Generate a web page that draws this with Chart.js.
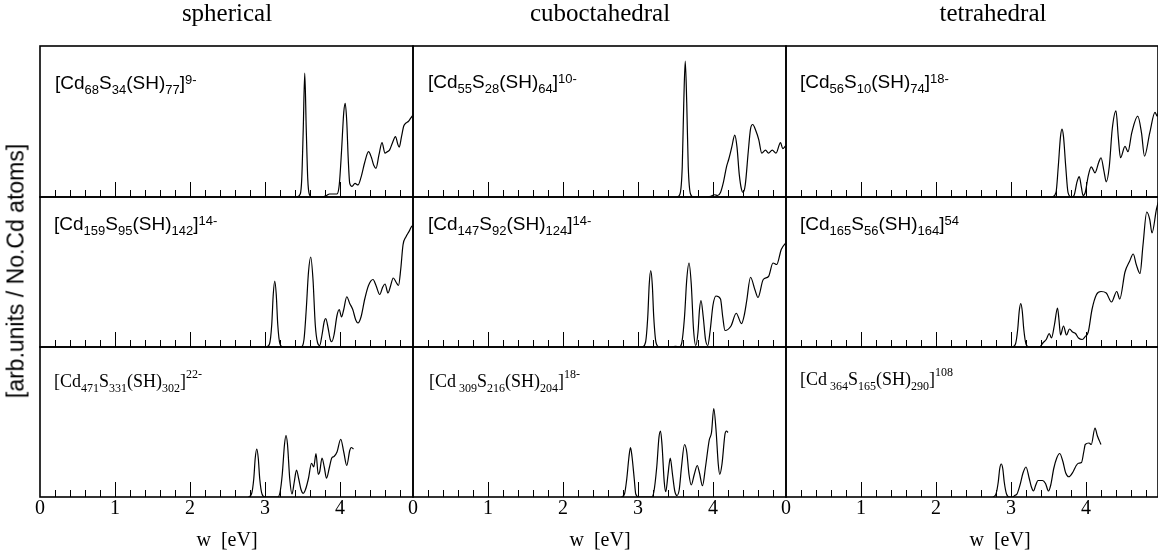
<!DOCTYPE html>
<html><head><meta charset="utf-8">
<script src="https://cdn.jsdelivr.net/npm/chart.js@4.4.1/dist/chart.umd.min.js"></script>
<style>
html,body{margin:0;padding:0;background:#fff;overflow:hidden}
#wrap{position:relative;width:1158px;height:559px;background:#fff}
canvas{position:absolute;left:0;top:0}
.t{position:absolute;white-space:nowrap;color:#000;line-height:1}
.serif{font-family:'Liberation Serif','Times New Roman',serif}
.sans{font-family:'Liberation Sans',Arial,sans-serif}
.f sub,.f sup{position:relative;vertical-align:baseline;line-height:0}
.fs{font-size:19px}.fs sub,.fs sup{font-size:13px}.fs sub{top:5px}.fs sup{top:-5px}
.fr{font-size:18px}.fr sub,.fr sup{font-size:12px}.fr sub{top:5px}.fr sup{top:-9px}
.ct{font-size:25px;transform:translateX(-50%);top:0}
.xt{font-size:20px;transform:translateX(-50%);top:529px}
</style></head><body><div id="wrap">
<div class="t serif ct" style="left:227px">spherical</div>
<div class="t serif ct" style="left:600px">cuboctahedral</div>
<div class="t serif ct" style="left:993px">tetrahedral</div>
<div class="t sans" style="left:16px;top:271px;font-size:23px;transform:translate(-50%,-50%) rotate(-90deg)">[arb.units / No.Cd atoms]</div>
<div class="t serif xt" style="left:227px">w&nbsp;&nbsp;[eV]</div>
<div class="t serif xt" style="left:600px">w&nbsp;&nbsp;[eV]</div>
<div class="t serif xt" style="left:1000px">w&nbsp;&nbsp;[eV]</div>
<div class="t sans f fs" style="left:55px;top:73px">[Cd<sub>68</sub>S<sub>34</sub>(SH)<sub>77</sub>]<sup>9-</sup></div>
<div class="t sans f fs" style="left:428px;top:72px">[Cd<sub>55</sub>S<sub>28</sub>(SH)<sub>64</sub>]<sup>10-</sup></div>
<div class="t sans f fs" style="left:800px;top:72px">[Cd<sub>56</sub>S<sub>10</sub>(SH)<sub>74</sub>]<sup>18-</sup></div>
<div class="t sans f fs" style="left:54px;top:214px">[Cd<sub>159</sub>S<sub>95</sub>(SH)<sub>142</sub>]<sup>14-</sup></div>
<div class="t sans f fs" style="left:428px;top:214px">[Cd<sub>147</sub>S<sub>92</sub>(SH)<sub>124</sub>]<sup>14-</sup></div>
<div class="t sans f fs" style="left:800px;top:214px">[Cd<sub>165</sub>S<sub>56</sub>(SH)<sub>164</sub>]<sup>54</sup></div>
<div class="t serif f fr" style="left:54px;top:372px">[Cd<sub>471</sub>S<sub>331</sub>(SH)<sub>302</sub>]<sup>22-</sup></div>
<div class="t serif f fr" style="left:429px;top:372px">[Cd<sub>&nbsp;309</sub>S<sub>216</sub>(SH)<sub>204</sub>]<sup>18-</sup></div>
<div class="t serif f fr" style="left:800px;top:370px">[Cd<sub>&nbsp;364</sub>S<sub>165</sub>(SH)<sub>290</sub>]<sup>108</sup></div>
</div>
<script>
// ---- data (energy in eV, intensity in arb. units) ----
const sphA = [[3.42,0],[3.47,0.02],[3.49,0.12],[3.51,0.45],[3.53,0.82],[3.55,0.45],[3.57,0.12],[3.59,0.02],[3.63,0],[3.75,0],[3.82,0.01],[3.86,0.02],[3.96,0.02],[3.99,0.08],[4.02,0.3],[4.05,0.56],[4.07,0.62],[4.09,0.5],[4.11,0.25],[4.13,0.09],[4.16,0.07],[4.20,0.09],[4.24,0.08],[4.28,0.13],[4.33,0.23],[4.38,0.30],[4.42,0.26],[4.45,0.21],[4.48,0.19],[4.52,0.28],[4.56,0.36],[4.60,0.29],[4.63,0.30],[4.66,0.31],[4.70,0.36],[4.74,0.40],[4.77,0.35],[4.79,0.33],[4.82,0.40],[4.85,0.47],[4.88,0.49],[4.91,0.50],[4.94,0.52],[4.97,0.54]];
const cubA = [[3.52,0],[3.56,0.02],[3.59,0.2],[3.61,0.62],[3.63,0.9],[3.65,0.62],[3.67,0.2],[3.70,0.02],[3.74,0],[3.90,0],[3.97,0.005],[4.02,0.015],[4.06,0.01],[4.10,0.03],[4.14,0.1],[4.18,0.2],[4.21,0.25],[4.25,0.33],[4.29,0.41],[4.32,0.33],[4.35,0.15],[4.38,0.05],[4.40,0.03],[4.43,0.08],[4.47,0.3],[4.50,0.45],[4.53,0.48],[4.57,0.44],[4.61,0.38],[4.65,0.29],[4.70,0.31],[4.74,0.29],[4.79,0.31],[4.84,0.29],[4.90,0.36],[4.93,0.32],[4.97,0.34]];
const tetA = [[3.55,0],[3.60,0.03],[3.63,0.2],[3.66,0.4],[3.68,0.45],[3.70,0.4],[3.73,0.2],[3.76,0.03],[3.80,0],[3.84,0.01],[3.88,0.1],[3.91,0.135],[3.94,0.06],[3.96,0.01],[3.99,0.03],[4.03,0.14],[4.07,0.2],[4.12,0.16],[4.17,0.23],[4.20,0.26],[4.24,0.17],[4.27,0.1],[4.31,0.2],[4.35,0.45],[4.40,0.57],[4.43,0.4],[4.46,0.26],[4.52,0.335],[4.56,0.30],[4.61,0.425],[4.69,0.535],[4.74,0.425],[4.78,0.27],[4.85,0.425],[4.92,0.56],[4.95,0.535],[4.98,0.625]];
const sphB = [[3.02,0],[3.06,0.02],[3.09,0.15],[3.11,0.35],[3.13,0.44],[3.15,0.35],[3.17,0.15],[3.20,0.02],[3.24,0],[3.48,0],[3.52,0.05],[3.55,0.25],[3.58,0.5],[3.61,0.60],[3.64,0.45],[3.67,0.15],[3.70,0.03],[3.73,0.01],[3.76,0.08],[3.79,0.17],[3.81,0.19],[3.84,0.13],[3.87,0.05],[3.89,0.035],[3.92,0.08],[3.96,0.21],[3.99,0.25],[4.02,0.20],[4.05,0.25],[4.09,0.335],[4.13,0.29],[4.17,0.25],[4.21,0.18],[4.24,0.16],[4.28,0.2],[4.33,0.32],[4.38,0.41],[4.44,0.45],[4.48,0.41],[4.53,0.35],[4.57,0.40],[4.60,0.42],[4.64,0.36],[4.67,0.40],[4.71,0.46],[4.75,0.43],[4.78,0.41],[4.81,0.52],[4.84,0.68],[4.88,0.735],[4.92,0.77],[4.95,0.80],[4.97,0.81]];
const cubB = [[3.06,0],[3.10,0.03],[3.13,0.2],[3.15,0.42],[3.17,0.51],[3.19,0.42],[3.21,0.2],[3.24,0.03],[3.28,0],[3.45,0],[3.50,0.005],[3.55,0.0],[3.58,0.02],[3.62,0.2],[3.65,0.45],[3.68,0.56],[3.71,0.42],[3.74,0.12],[3.77,0.01],[3.80,0.1],[3.82,0.25],[3.84,0.31],[3.87,0.2],[3.90,0.05],[3.93,0.01],[3.96,0.1],[4.00,0.28],[4.04,0.34],[4.10,0.32],[4.13,0.2],[4.16,0.11],[4.24,0.14],[4.31,0.225],[4.38,0.156],[4.42,0.22],[4.45,0.31],[4.50,0.465],[4.56,0.38],[4.60,0.33],[4.67,0.45],[4.74,0.47],[4.80,0.56],[4.85,0.55],[4.91,0.65],[4.98,0.70]];
const tetB = [[3.02,0],[3.06,0.02],[3.09,0.12],[3.11,0.24],[3.13,0.29],[3.15,0.24],[3.17,0.12],[3.20,0.02],[3.24,0],[3.38,0],[3.43,0.03],[3.47,0.05],[3.51,0.09],[3.54,0.06],[3.58,0.15],[3.62,0.26],[3.64,0.18],[3.66,0.08],[3.70,0.14],[3.74,0.08],[3.78,0.12],[3.82,0.10],[3.86,0.09],[3.90,0.06],[3.95,0.05],[3.99,0.07],[4.03,0.10],[4.08,0.25],[4.14,0.35],[4.20,0.37],[4.27,0.36],[4.34,0.30],[4.41,0.37],[4.45,0.32],[4.52,0.50],[4.58,0.57],[4.63,0.62],[4.67,0.55],[4.72,0.49],[4.76,0.68],[4.81,0.90],[4.85,0.85],[4.88,0.76],[4.94,0.92],[4.98,0.99]];
const sphC = [[2.78,0],[2.82,0.02],[2.85,0.12],[2.87,0.26],[2.89,0.32],[2.91,0.26],[2.93,0.12],[2.96,0.02],[3.00,0],[3.17,0],[3.20,0.03],[3.23,0.15],[3.26,0.35],[3.28,0.41],[3.30,0.35],[3.33,0.12],[3.36,0.02],[3.39,0.1],[3.42,0.18],[3.45,0.12],[3.48,0.05],[3.51,0.025],[3.54,0.05],[3.58,0.125],[3.62,0.225],[3.65,0.2],[3.68,0.29],[3.71,0.15],[3.73,0.17],[3.76,0.26],[3.79,0.2],[3.82,0.125],[3.86,0.2],[3.89,0.26],[3.92,0.27],[3.96,0.30],[4.01,0.385],[4.05,0.30],[4.09,0.21],[4.13,0.31],[4.15,0.33],[4.18,0.32]];
const cubC = [[2.78,0],[2.82,0.02],[2.85,0.12],[2.88,0.27],[2.90,0.33],[2.92,0.27],[2.95,0.12],[2.97,0.02],[3.01,0],[3.18,0],[3.21,0.03],[3.25,0.2],[3.28,0.4],[3.30,0.44],[3.32,0.35],[3.35,0.1],[3.37,0.035],[3.40,0.15],[3.43,0.26],[3.46,0.15],[3.49,0.04],[3.52,0.01],[3.55,0.05],[3.58,0.2],[3.62,0.35],[3.65,0.3],[3.68,0.15],[3.71,0.08],[3.75,0.15],[3.79,0.21],[3.82,0.16],[3.86,0.075],[3.90,0.2],[3.95,0.38],[3.98,0.43],[4.01,0.59],[4.04,0.45],[4.07,0.22],[4.09,0.15],[4.12,0.22],[4.16,0.42],[4.18,0.44],[4.20,0.43]];
const tetC = [[2.76,0],[2.80,0.02],[2.83,0.1],[2.85,0.19],[2.87,0.22],[2.89,0.19],[2.91,0.1],[2.94,0.02],[2.98,0],[3.02,0.0],[3.05,0.01],[3.08,0.02],[3.12,0.08],[3.16,0.16],[3.20,0.20],[3.24,0.13],[3.27,0.07],[3.30,0.04],[3.33,0.08],[3.36,0.11],[3.42,0.11],[3.46,0.09],[3.50,0.04],[3.53,0.08],[3.57,0.19],[3.61,0.26],[3.65,0.29],[3.69,0.24],[3.73,0.16],[3.77,0.135],[3.83,0.17],[3.87,0.21],[3.90,0.225],[3.94,0.23],[3.97,0.3],[3.99,0.35],[4.04,0.36],[4.07,0.35],[4.12,0.46],[4.15,0.41],[4.20,0.35]];
const majorTicks = [1, 2, 3, 4];
const minorTicks = [0.2,0.4,0.6,0.8,1.2,1.4,1.6,1.8,2.2,2.4,2.6,2.8,3.2,3.4,3.6,3.8,4.2,4.4,4.6,4.8];
const xTickLabels = [0, 1, 2, 3, 4];

// ---- layout ----
const W = 1158, H = 559;
const colL = [40, 413, 786], colR = [413, 786, 1158];
const rowT = [46, 197, 347], rowB = [197, 347, 497];
const pxPerEV = 75, axisH = 40;
const grid = [[sphA, cubA, tetA], [sphB, cubB, tetB], [sphC, cubC, tetC]];

const frameTicks = {
  id: 'frameTicks',
  afterDatasetsDraw(chart) {
    const {ctx, chartArea: a, scales: {x}} = chart;
    ctx.save();
    ctx.strokeStyle = '#000';
    ctx.lineWidth = 1;
    ctx.beginPath();
    for (const v of minorTicks) { const p = Math.round(x.getPixelForValue(v)) + 0.5; ctx.moveTo(p, a.bottom); ctx.lineTo(p, a.bottom - 7); }
    for (const v of majorTicks) { const p = Math.round(x.getPixelForValue(v)) + 0.5; ctx.moveTo(p, a.bottom); ctx.lineTo(p, a.bottom - 15); }
    ctx.stroke();
    ctx.lineWidth = 1.6;
    ctx.strokeRect(a.left, a.top, a.right - a.left, a.bottom - a.top);
    ctx.restore();
  }
};

const wrap = document.getElementById('wrap');
grid.forEach((row, r) => row.forEach((pts, c) => {
  const cv = document.createElement('canvas');
  cv.width = W; cv.height = H;
  wrap.insertBefore(cv, wrap.firstChild);
  const bottomRow = r === 2;
  new Chart(cv, {
    type: 'line',
    data: { datasets: [{ data: pts.map(([x, y]) => ({x, y})), borderColor: '#000', borderWidth: 1.2, pointRadius: 0, fill: false, cubicInterpolationMode: 'monotone' }] },
    options: {
      responsive: false, animation: false, devicePixelRatio: 1,
      layout: { padding: { left: colL[c], right: W - colR[c], top: rowT[r], bottom: H - rowB[r] - (bottomRow ? axisH : 0) } },
      plugins: { legend: { display: false }, tooltip: { enabled: false } },
      scales: {
        x: {
          type: 'linear', min: 0, max: (colR[c] - colL[c]) / pxPerEV,
          display: bottomRow,
          afterFit(s) { s.height = bottomRow ? axisH : 0; },
          afterBuildTicks(s) { s.ticks = xTickLabels.map(v => ({value: v})); },
          grid: { display: false, drawTicks: false },
          border: { display: false },
          ticks: { autoSkip: false, maxRotation: 0, padding: 0, color: '#000', font: { family: "'Liberation Serif', serif", size: 20 } }
        },
        y: { display: false, min: 0, max: 1 }
      }
    },
    plugins: [frameTicks]
  });
}));
</script>
</body></html>
